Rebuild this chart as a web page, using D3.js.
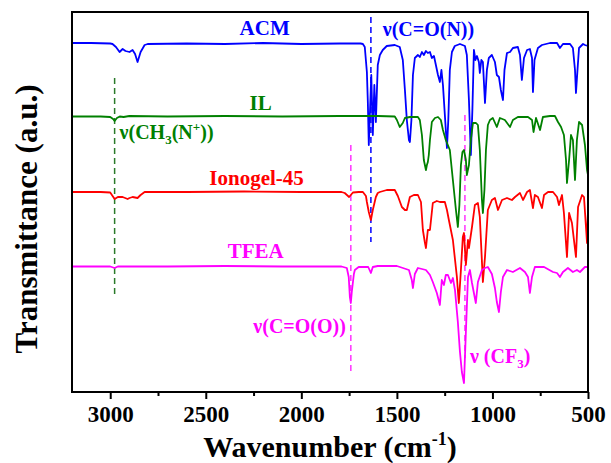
<!DOCTYPE html>
<html><head><meta charset="utf-8">
<script src="https://cdn.jsdelivr.net/npm/d3@7"></script>
<style>body{margin:0;background:#fff}svg{display:block}</style>
</head><body>
<script>
// ---- data (wavenumber cm-1, transmittance a.u., offset stacked) ----
const xTicks = [3000, 2500, 2000, 1500, 1000, 500];
const xMinor = [2750, 2250, 1750, 1250, 750];
const seriesNames = ["ACM", "IL", "Ionogel-45", "TFEA"];
const seriesColors = ["#0000ff", "#008000", "#ff0000", "#ff00ff"];

const acm = [[3200,349],[3100,349],[3000,348.5],[2988,348],[2970,345],[2951,340],[2935,343],[2920,341],[2899,340],[2883,342],[2870,338],[2857,330],[2841,340],[2820,347],[2804,348],[2600,348.5],[2400,348],[2200,349],[2000,348],[1800,348.5],[1690,348.5],[1678,348],[1668,345],[1657,320],[1652,290],[1647,247],[1634,317],[1626,257],[1618,307],[1610,270],[1600,327],[1589,337],[1574,342],[1553,346],[1511,347],[1485,345],[1469,332],[1458,302],[1448,272],[1437,252],[1432,250],[1424,272],[1416,317],[1406,334],[1390,337],[1380,335],[1369,340],[1359,337],[1348,341],[1338,339],[1327,340],[1317,334],[1306,336],[1296,327],[1285,317],[1275,310],[1267,322],[1259,307],[1249,277],[1238,244],[1231,272],[1223,322],[1212,340],[1197,346],[1170,348],[1144,346],[1134,337],[1123,292],[1113,237],[1105,282],[1097,342],[1089,332],[1081,336],[1071,330],[1066,319],[1058,332],[1050,330],[1039,289],[1029,322],[1019,334],[1003,337],[987,330],[977,317],[966,315],[956,302],[945,292],[937,322],[924,339],[908,340],[893,344],[867,345],[856,337],[846,312],[835,334],[819,342],[804,343],[793,334],[788,300],[780,332],[762,344],[741,347],[699,349],[662,349],[647,344],[631,348],[594,348],[579,344],[568,322],[563,299],[555,322],[547,344],[526,348],[516,347],[500,346]];

const il = [[3200,275.5],[3050,275.5],[3000,275],[2985,273],[2977,271],[2965,274],[2950,275.5],[2930,275],[2900,276],[2700,275.5],[2400,276],[2100,275.5],[1800,276],[1600,276],[1511,275.5],[1500,272],[1485,265],[1469,269],[1458,274],[1432,275],[1390,275],[1380,272],[1369,257],[1359,232],[1348,222],[1343,227],[1338,230],[1333,237],[1327,252],[1317,270],[1301,274],[1285,275],[1270,272],[1259,262],[1244,252],[1223,242],[1207,212],[1191,182],[1181,165],[1173,187],[1165,227],[1157,240],[1149,242],[1139,232],[1134,217],[1123,227],[1113,252],[1102,269],[1086,269],[1076,267],[1066,242],[1055,192],[1050,179],[1042,202],[1034,242],[1024,267],[1013,272],[998,274],[977,265],[961,274],[935,272],[908,265],[893,272],[867,275],[814,275],[793,272],[785,260],[772,274],[751,262],[736,275],[699,276],[673,276],[657,270],[641,265],[626,257],[615,232],[610,209],[599,232],[589,257],[579,252],[568,212],[558,252],[547,270],[531,267],[516,247],[505,222],[500,217]];

const ionogel = [[3200,200],[3050,200],[3000,199.5],[2977,193],[2960,195],[2935,195],[2909,193],[2899,194],[2883,195],[2857,194],[2841,197],[2820,200],[2600,200],[2300,200.5],[2000,200],[1790,200],[1773,199],[1750,195],[1730,199.5],[1700,200],[1678,200],[1662,196],[1657,190],[1647,180],[1636,172],[1626,182],[1610,195],[1600,199],[1589,200],[1553,202],[1511,202],[1495,196],[1474,185],[1458,182],[1448,182],[1432,195],[1411,197],[1390,197],[1374,190],[1364,162],[1354,150],[1348,144],[1338,162],[1327,162],[1312,189],[1291,191],[1275,190],[1249,190],[1238,182],[1228,172],[1207,152],[1186,115],[1176,89],[1165,122],[1155,155],[1149,159],[1139,127],[1128,152],[1123,144],[1107,165],[1092,187],[1076,189],[1066,175],[1050,110],[1039,135],[1024,182],[1003,192],[987,194],[971,182],[950,192],[924,194],[898,192],[882,195],[856,199],[840,192],[819,200],[804,202],[788,184],[778,197],[762,195],[741,184],[730,197],[709,200],[683,200],[662,195],[652,187],[636,197],[626,179],[610,135],[599,179],[584,169],[563,135],[552,185],[531,197],[521,195],[505,149],[500,182]];

const tfea = [[3200,125.5],[3000,125.5],[2977,124],[2960,125.5],[2700,125.5],[2400,126],[2100,125.5],[1790,125.5],[1762,124],[1752,115],[1746,95],[1741,89],[1736,100],[1725,118],[1720,122],[1700,125],[1650,125],[1636,119],[1626,125],[1600,126],[1500,126],[1437,122],[1422,112],[1416,104],[1406,118],[1390,124],[1348,122],[1327,117],[1312,110],[1291,99],[1275,87],[1265,112],[1254,107],[1244,117],[1233,117],[1217,109],[1207,114],[1196,102],[1181,70],[1170,40],[1160,20],[1149,9],[1139,60],[1128,115],[1118,122],[1107,109],[1087,89],[1076,110],[1055,122],[1039,124],[1024,125],[1003,118],[987,104],[977,90],[966,80],[956,100],[945,115],[924,122],[893,120],[856,124],[830,120],[814,115],[804,99],[793,115],[778,125],[730,125],[683,120],[662,119],[647,115],[631,120],[605,124],[579,120],[558,122],[542,120],[516,125],[500,125]];

const seriesData = [acm, il, ionogel, tfea];
// label anchors [wavenumber, a.u.]
const nameAnchors = [[2192,357],[2213,282],[2234,207],[2239,134]];
// dashed band markers: wavenumber, from, to, colour
const markerWn = [1636, 2977, 1741, 1144];
const markerFrom = [375, 314, 247, 277];
const markerTo = [150, 94, 20, 34];
const markerColor = ["#0000ff", "#2a7a2a", "#ff33ff", "#ff33ff"];

// ---- layout ----
const W = 611, H = 463;
const m = {l: 72, r: 23, t: 12, b: 71};
const x = d3.scaleLinear().domain([3200, 500]).range([m.l, W - m.r]);
const y = d3.scaleLinear().domain([0, 380]).range([H - m.b, m.t]);
const serif = "'Liberation Serif','Times New Roman',serif";

const svg = d3.select("body").append("svg").attr("width", W).attr("height", H);

// dashed markers
markerWn.forEach((wn, i) => {
  svg.append("line").attr("x1", x(wn)).attr("x2", x(wn))
    .attr("y1", y(markerFrom[i])).attr("y2", y(markerTo[i]))
    .attr("stroke", markerColor[i]).attr("stroke-width", 1.5)
    .attr("stroke-dasharray", "6,4");
});

// spectra
const line = d3.line().x(d => x(d[0])).y(d => y(d[1]));
seriesData.forEach((d, i) => {
  svg.append("path").datum(d).attr("d", line).attr("fill", "none")
    .attr("stroke", seriesColors[i]).attr("stroke-width", 1.8)
    .attr("stroke-linejoin", "round");
});

// frame
svg.append("rect").attr("x", m.l).attr("y", m.t)
  .attr("width", W - m.r - m.l).attr("height", H - m.b - m.t)
  .attr("fill", "none").attr("stroke", "#000").attr("stroke-width", 2);

// bottom axis
const ax = svg.append("g").attr("transform", `translate(0,${H - m.b})`)
  .call(d3.axisBottom(x).tickValues(xTicks).tickSize(7).tickPadding(7).tickFormat(d3.format("d")));
ax.select(".domain").remove();
ax.selectAll("line").attr("stroke-width", 2);
ax.selectAll("text").attr("font-family", serif).attr("font-weight", "bold")
  .attr("font-size", 23).attr("fill", "#000");
const axm = svg.append("g").attr("transform", `translate(0,${H - m.b})`)
  .call(d3.axisBottom(x).tickValues(xMinor).tickSize(4).tickFormat(""));
axm.select(".domain").remove();
axm.selectAll("line").attr("stroke-width", 2);

// axis titles
const xt = svg.append("text").attr("x", 330).attr("y", 457).attr("text-anchor", "middle")
  .attr("font-family", serif).attr("font-weight", "bold").attr("font-size", 30);
xt.append("tspan").text("Wavenumber (cm");
xt.append("tspan").attr("dy", -12).attr("font-size", 18).text("-1");
xt.append("tspan").attr("dy", 12).text(")");

svg.append("text").attr("transform", "translate(37,219) rotate(-90)")
  .attr("text-anchor", "middle").attr("font-family", serif).attr("font-weight", "bold")
  .attr("font-size", 31).text("Transmittance (a.u.)");

// series names
seriesNames.forEach((n, i) => {
  svg.append("text").attr("x", x(nameAnchors[i][0])).attr("y", y(nameAnchors[i][1]))
    .attr("text-anchor", "middle").attr("font-family", serif).attr("font-weight", "bold")
    .attr("font-size", 21).attr("fill", seriesColors[i]).text(n);
});

// band annotations
function ann(wn, v, anchor, color, parts) {
  const t = svg.append("text").attr("x", x(wn)).attr("y", y(v)).attr("text-anchor", anchor)
    .attr("font-family", serif).attr("font-weight", "bold").attr("font-size", 20).attr("fill", color);
  parts.forEach(p => {
    const s = t.append("tspan").text(p[0]);
    if (p[1]) s.attr("dy", p[1]);
    if (p[2]) s.attr("font-size", p[2]);
  });
}
ann(1574, 356, "start", "#0000ff", [["ν(C=O(N))"]]);
ann(2951, 253, "start", "#008000", [["ν(CH"], ["3", 5, 13], ["(N", -5], ["+", -8, 13], ["))", 8]]);
ann(1767, 59, "end", "#ff00ff", [["ν(C=O(O))"]]);
ann(1118, 29, "start", "#ff00ff", [["ν (CF"], ["3", 5, 13], [")", -5]]);
</script>
</body></html>
